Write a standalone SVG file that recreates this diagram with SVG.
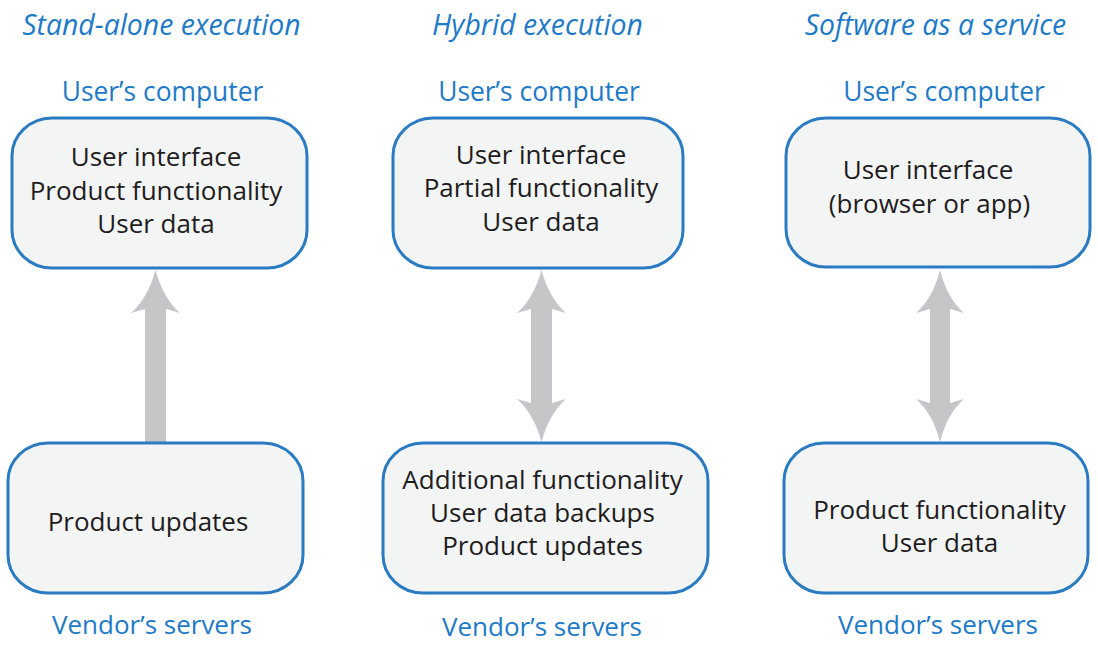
<svg xmlns="http://www.w3.org/2000/svg" width="1098" height="654" viewBox="0 0 1098 654">
<style>
.title{font-family:"Open Sans","Liberation Sans",sans-serif;font-style:italic;font-size:28.4px;fill:#1e7ac6;text-anchor:middle}
.lbl{font-family:"Open Sans","Liberation Sans",sans-serif;font-size:26.4px;fill:#1e7ac6;text-anchor:middle}
.lbl2{font-family:"Open Sans","Liberation Sans",sans-serif;font-size:26px;fill:#1e7ac6;text-anchor:middle}
.box{fill:#f3f5f5;stroke:#2a7bc1;stroke-width:3}
.txt{font-family:"Open Sans","Liberation Sans",sans-serif;font-size:26px;fill:#1f1c1d;text-anchor:middle}
.arrow{fill:#c6c6c8}
</style>
<rect width="1098" height="654" fill="#ffffff"/>
<g id="titles">
<text class="title" x="161.5" y="35">Stand-alone execution</text>
<text class="title" x="537.5" y="35">Hybrid execution</text>
<text class="title" x="935.5" y="35">Software as a service</text>
</g>
<g id="labels">
<text class="lbl" x="162.5" y="101">User’s computer</text>
<text class="lbl" x="539" y="101">User’s computer</text>
<text class="lbl" x="944" y="101">User’s computer</text>
<text class="lbl2" x="152" y="634">Vendor’s servers</text>
<text class="lbl2" x="542" y="636">Vendor’s servers</text>
<text class="lbl2" x="938" y="634">Vendor’s servers</text>
</g>
<g id="connectors">
<path class="arrow" d="M155.5,270 Q148,298 131,313 L145,309 L145,445 L166,445 L166,309 L180,313 Q163,298 155.5,270 Z"/>
<path class="arrow" d="M541.5,270 Q534,298 517,313 L531,309 L531,403 L517,399 Q534,414 541.5,442 Q549,414 566,399 L552,403 L552,309 L566,313 Q549,298 541.5,270 Z"/>
<path class="arrow" d="M940,270 Q933,298 916,313 L930,309 L930,403 L916,399 Q933,414 940,442 Q947,414 964,399 L950,403 L950,309 L964,313 Q947,298 940,270 Z"/>
</g>
<g id="node-sa-user">
<rect class="box" x="12" y="118" width="295" height="150" rx="40" ry="38"/>
<text class="txt" x="156" y="166">User interface</text>
<text class="txt" x="156" y="200">Product functionality</text>
<text class="txt" x="156" y="233">User data</text>
</g>
<g id="node-sa-vendor">
<rect class="box" x="8" y="443" width="295" height="150" rx="40" ry="38"/>
<text class="txt" x="148" y="531">Product updates</text>
</g>
<g id="node-hy-user">
<rect class="box" x="393" y="118" width="290" height="150" rx="40" ry="38"/>
<text class="txt" x="541" y="164">User interface</text>
<text class="txt" x="541" y="197">Partial functionality</text>
<text class="txt" x="541" y="231">User data</text>
</g>
<g id="node-hy-vendor">
<rect class="box" x="383" y="443" width="325" height="150" rx="40" ry="38"/>
<text class="txt" x="542.5" y="489">Additional functionality</text>
<text class="txt" x="542.5" y="522">User data backups</text>
<text class="txt" x="542.5" y="555">Product updates</text>
</g>
<g id="node-saas-user">
<rect class="box" x="786" y="118" width="304" height="149" rx="40" ry="38"/>
<text class="txt" x="928" y="179">User interface</text>
<text class="txt" x="929.5" y="213">(browser or app)</text>
</g>
<g id="node-saas-vendor">
<rect class="box" x="784" y="443" width="304" height="150" rx="40" ry="38"/>
<text class="txt" x="939.5" y="519">Product functionality</text>
<text class="txt" x="939.5" y="552">User data</text>
</g>
</svg>
